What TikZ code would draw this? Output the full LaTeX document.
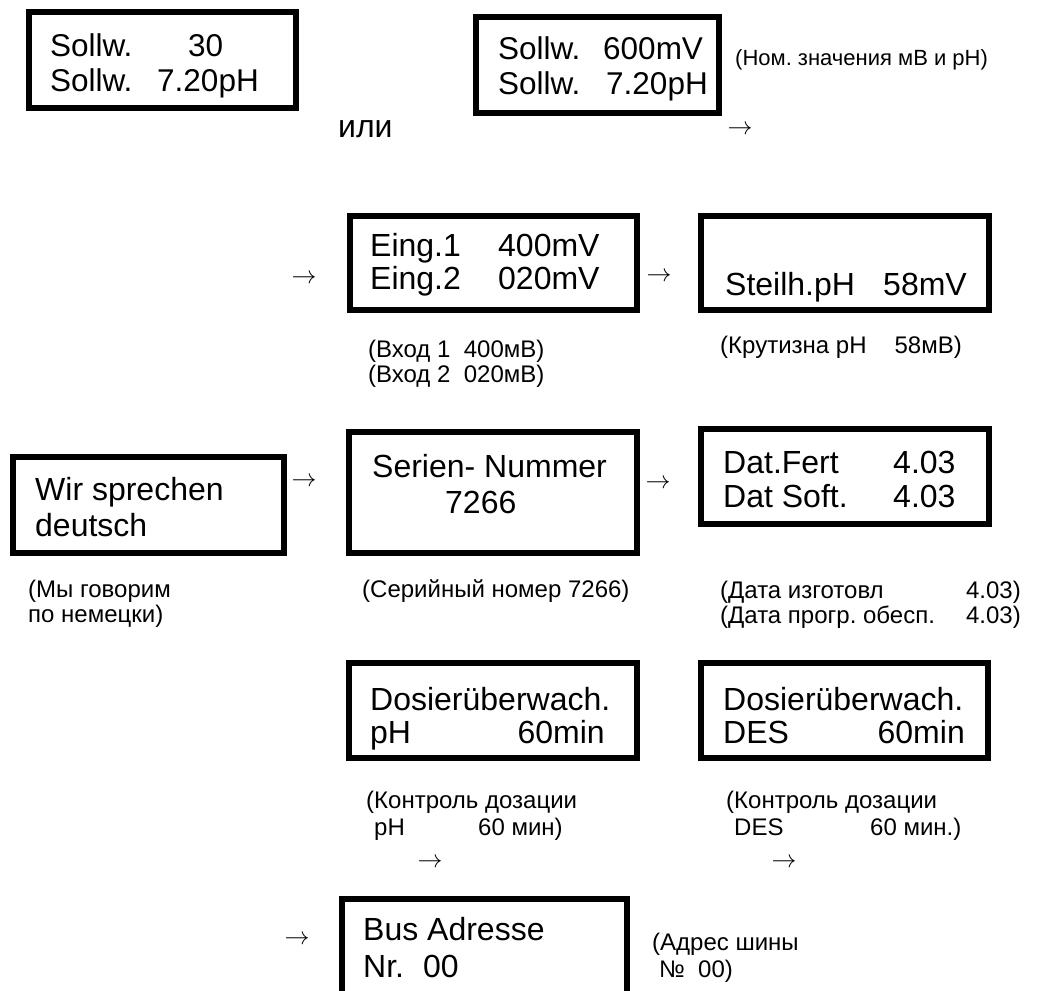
\documentclass[tikz,border=0pt]{standalone}
\usepackage{fontspec}
\setmainfont{Liberation Sans}
\usepackage{tikz}
\frenchspacing

\tikzset{
    lcd/.style={draw, line width=6pt, inner sep=0pt},
    disp/.style={anchor=base west, inner sep=0pt, font=\fontsize{32}{38}\selectfont},
    dispr/.style={disp, anchor=base east},
    top disp/.style={disp, font=\fontsize{31.5}{38}\selectfont},
    note/.style={anchor=base west, inner sep=0pt, font=\fontsize{24}{28}\selectfont},
    noter/.style={note, anchor=base east},
    pfeil/.style={inner sep=0pt, font=\fontsize{31}{31}\selectfont}
}

\begin{document}
\begin{tikzpicture}[x=1pt, y=-1pt]
            \useasboundingbox (0,0) rectangle (1054,990);
            \clip (0,0) rectangle (1054,990);

            % Sollwert displays
            \node[lcd, minimum width=267pt, minimum height=96pt] (sollA) at (162.5,60) {};
            \node[top disp] (sollAa) at (50,56.5) {Sollw.};
            \node[top disp] (sollAb) at (188,56.5) {30};
            \node[top disp] (sollAc) at (50,91.5) {Sollw.};
            \node[top disp] (sollAd) at (157,91.5) {7.20pH};

            \node[lcd, minimum width=243pt, minimum height=96pt] (sollB) at (597.5,65) {};
            \node[top disp] (sollBa) at (498,59.5) {Sollw.};
            \node[top disp] (sollBb) at (603,59.5) {600mV};
            \node[top disp] (sollBc) at (498,94.5) {Sollw.};
            \node[top disp] (sollBd) at (606,94.5) {7.20pH};
            \node[note, font=\fontsize{22}{27}\selectfont] (sollBn) at (735,66) {(Ном. значения мВ и рН)};

            \node[disp] (oder) at (338,137) {или};
            \node[pfeil] (p1) at (740,130) {$\rightarrow$};

            % inputs and slope
            \node[pfeil] (p2) at (304,279) {$\rightarrow$};
            \node[lcd, minimum width=287pt, minimum height=94pt] (eing) at (493.5,263) {};
            \node[disp] (eingA) at (370,256) {Eing.1};
            \node[disp] (eingB) at (498,256) {400mV};
            \node[disp] (eingC) at (370,289) {Eing.2};
            \node[disp] (eingD) at (498,289) {020mV};
            \node[note] (eingN1) at (368,357) {(Вход 1\ \ 400мВ)};
            \node[note] (eingN2) at (368,382) {(Вход 2\ \ 020мВ)};

            \node[pfeil] (p3) at (659,277) {$\rightarrow$};
            \node[lcd, minimum width=288pt, minimum height=94pt] (steil) at (845,263) {};
            \node[disp] (steilA) at (725,295) {Steilh.pH};
            \node[disp] (steilB) at (883,295) {58mV};
            \node[note] (steilN1) at (720,353) {(Крутизна рН};
            \node[noter] (steilN2) at (962,353) {58мВ)};

            % language, serial number, dates
            \node[lcd, minimum width=271pt, minimum height=96pt] (sprache) at (148.5,505) {};
            \node[disp] (spracheA) at (35,500) {Wir sprechen};
            \node[disp] (spracheB) at (35,536) {deutsch};
            \node[note] (spracheN1) at (28,597) {(Мы говорим};
            \node[note] (spracheN2) at (28,622) {по немецки)};

            \node[pfeil] (p4) at (304,482) {$\rightarrow$};
            \node[lcd, minimum width=288pt, minimum height=121pt] (serie) at (493,492.5) {};
            \node[disp] (serieA) at (372,477) {Serien- Nummer};
            \node[disp] (serieB) at (445,513) {7266};
            \node[note] (serieN) at (362,597) {(Серийный номер 7266)};

            \node[pfeil] (p5) at (658,484) {$\rightarrow$};
            \node[lcd, minimum width=288pt, minimum height=95pt] (datum) at (845,476.5) {};
            \node[disp] (datumA) at (723,473) {Dat.Fert};
            \node[disp] (datumB) at (893,473) {4.03};
            \node[disp] (datumC) at (723,507) {Dat Soft.};
            \node[disp] (datumD) at (893,507) {4.03};
            \node[note] (datumN1) at (720,598) {(Дата изготовл};
            \node[noter] (datumN2) at (1021,598) {4.03)};
            \node[note] (datumN3) at (720,623) {(Дата прогр. обесп.};
            \node[noter] (datumN4) at (1021,623) {4.03)};

            % dosing watch
            \node[lcd, minimum width=288pt, minimum height=95pt] (dosPH) at (493,710.5) {};
            \node[disp] (dosPHa) at (370,710) {Dosierüberwach.};
            \node[disp] (dosPHb) at (370,743) {pH};
            \node[dispr] (dosPHc) at (605,743) {60min};
            \node[note] (dosPHn1) at (366,808) {(Контроль дозации};
            \node[note] (dosPHn2) at (374,835) {pH};
            \node[note] (dosPHn3) at (478,835) {60 мин)};
            \node[pfeil] (p6) at (430,863) {$\rightarrow$};

            \node[lcd, minimum width=287pt, minimum height=95pt] (dosDES) at (844.5,710.5) {};
            \node[disp] (dosDESa) at (723,710) {Dosierüberwach.};
            \node[disp] (dosDESb) at (723,743) {DES};
            \node[dispr] (dosDESc) at (965,743) {60min};
            \node[note] (dosDESn1) at (726,808) {(Контроль дозации};
            \node[note] (dosDESn2) at (734,835) {DES};
            \node[note] (dosDESn3) at (870,835) {60 мин.)};
            \node[pfeil] (p7) at (784,863) {$\rightarrow$};

            % bus address
            \node[pfeil] (p8) at (297,940) {$\rightarrow$};
            \node[lcd, minimum width=285pt, minimum height=114pt] (bus) at (484.5,956) {};
            \node[disp] (busA) at (363,940) {Bus Adresse};
            \node[disp] (busB) at (363,977) {Nr.};
            \node[disp] (busC) at (423,977) {00};
            \node[note] (busN1) at (652,950) {(Адрес шины};
            \node[note] (busN2) at (659,977) {№};
            \node[note] (busN3) at (698,977) {00)};
\end{tikzpicture}
\end{document}
